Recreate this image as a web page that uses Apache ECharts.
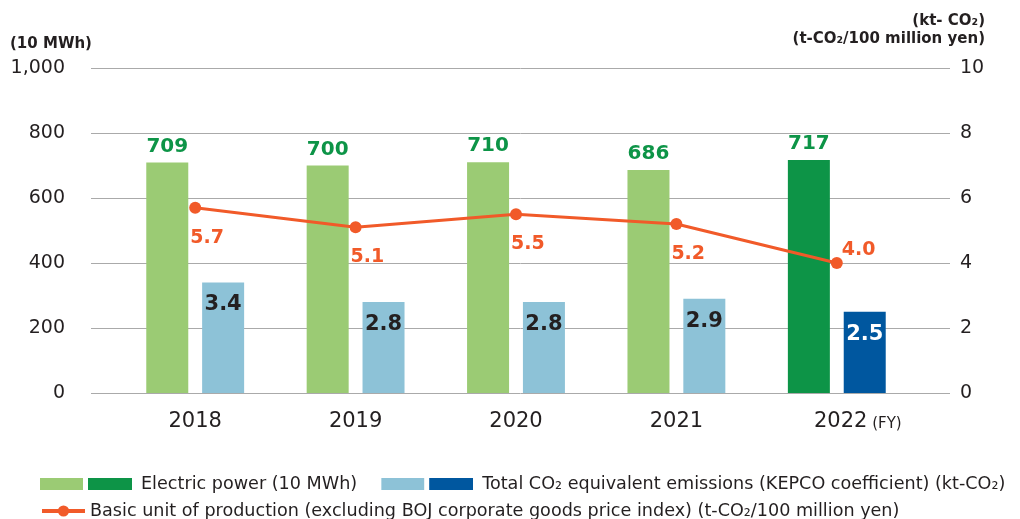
<!DOCTYPE html>
<html><head><meta charset="utf-8">
<script src="https://cdn.jsdelivr.net/npm/echarts@6/dist/echarts.min.js"></script>
<style>html,body{margin:0;padding:0;background:#fff}#c{width:1020px;height:519px}</style>
</head><body><div id="c"></div>
<script>
const categories = ['2018', '2019', '2020', '2021', '2022'];
const powerValues = [709, 700, 710, 686, 717];
const emissionValues = [3.4, 2.8, 2.8, 2.9, 2.5];
const basicUnitValues = [5.7, 5.1, 5.5, 5.2, 4.0];
const leftTicks = [0, 200, 400, 600, 800, 1000];
const rightTicks = [0, 2, 4, 6, 8, 10];

const C = {
  lightGreen: '#9bcb74', darkGreen: '#0d9447',
  lightBlue: '#8dc2d7', darkBlue: '#00579f',
  orange: '#f15a29', text: '#231f20', grid: '#aaaaaa'
};
const FONT = 'DejaVu Sans';

function twoBoxIcon(a, b) {
  const svg = '<svg xmlns="http://www.w3.org/2000/svg" width="92" height="12" viewBox="0 0 92 12">' +
    '<rect x="0" y="0" width="43" height="12" fill="' + a + '"/>' +
    '<rect x="48" y="0" width="44" height="12" fill="' + b + '"/></svg>';
  return 'image://data:image/svg+xml;charset=utf-8,' + encodeURIComponent(svg);
}

const lastIdx = categories.length - 1;
const chart = echarts.init(document.getElementById('c'), null, {renderer: 'canvas'});

const option = {
  animation: false,
  textStyle: {fontFamily: FONT},
  grid: [
    {left: 91, right: 70, top: 68, bottom: 126},
    {left: 115, right: 103, top: 68, bottom: 126}
  ],
  title: [
    {text: '(10 MWh)', left: 5, top: 32, textStyle: {fontFamily: FONT, fontSize: 15, fontWeight: 'bold', color: C.text}},
    {text: '(kt- CO₂)', right: 30, top: 9, textStyle: {fontFamily: FONT, fontSize: 15, fontWeight: 'bold', color: C.text}},
    {text: '(t-CO₂/100 million yen)', right: 30, top: 27, textStyle: {fontFamily: FONT, fontSize: 15, fontWeight: 'bold', color: C.text}}
  ],
  xAxis: [
    {type: 'category', gridIndex: 0, data: categories, show: false},
    {
      type: 'category', gridIndex: 1, data: categories,
      axisLine: {show: false}, axisTick: {show: false},
      axisLabel: {
        interval: 0, margin: 18, color: C.text, fontSize: 21, fontFamily: FONT,
        formatter: function (v, i) {
          return i === lastIdx ? '{sp|}{y|' + v + '}{fy| (FY)}' : '{y|' + v + '}';
        },
        rich: {
          y: {fontSize: 21, color: C.text, fontFamily: FONT},
          fy: {fontSize: 15, color: C.text, fontFamily: FONT, padding: [5, 0, 0, 0]},
          sp: {width: 42}
        }
      }
    }
  ],
  yAxis: [
    {
      type: 'value', gridIndex: 0, min: 0, max: 1000, interval: 200,
      axisLine: {show: false}, axisTick: {show: false},
      splitLine: {lineStyle: {color: C.grid, width: 1}},
      axisLabel: {
        margin: 26, color: C.text, fontSize: 19, fontFamily: FONT,
        formatter: function (v) { return v.toLocaleString('en-US'); }
      }
    },
    {
      type: 'value', gridIndex: 0, position: 'right', min: 0, max: 10, interval: 2,
      axisLine: {show: false}, axisTick: {show: false}, splitLine: {show: false},
      axisLabel: {margin: 10, color: C.text, fontSize: 19, fontFamily: FONT}
    },
    {type: 'value', gridIndex: 1, min: 0, max: 1000, show: false},
    {type: 'value', gridIndex: 1, min: 0, max: 10, show: false, position: 'right'}
  ],
  legend: [
    {
      left: 40, top: 475, padding: 0, itemWidth: 92, itemHeight: 12, itemGap: 24,
      textStyle: {fontFamily: FONT, fontSize: 17.6, color: C.text, padding: [0, 0, 0, 4]},
      data: [
        {name: 'Electric power (10 MWh)', icon: twoBoxIcon(C.lightGreen, C.darkGreen)},
        {name: 'Total CO₂ equivalent emissions (KEPCO coefficient) (kt-CO₂)', icon: twoBoxIcon(C.lightBlue, C.darkBlue)}
      ]
    },
    {
      left: 40, top: 502, padding: 0, itemWidth: 43, itemHeight: 14, itemGap: 6,
      textStyle: {fontFamily: FONT, fontSize: 17.6, color: C.text},
      lineStyle: {width: 4},
      data: ['Basic unit of production (excluding BOJ corporate goods price index) (t-CO₂/100 million yen)']
    }
  ],
  series: [
    {
      name: 'Electric power (10 MWh)', type: 'bar', xAxisIndex: 1, yAxisIndex: 2,
      barWidth: 42, barGap: '33%',
      itemStyle: {color: C.lightGreen},
      data: powerValues.map(function (v, i) {
        return {value: v, itemStyle: {color: i === lastIdx ? C.darkGreen : C.lightGreen}};
      }),
      label: {show: true, position: 'top', distance: 6, color: C.darkGreen, fontSize: 20, fontWeight: 'bold', fontFamily: FONT}
    },
    {
      name: 'Total CO₂ equivalent emissions (KEPCO coefficient) (kt-CO₂)', type: 'bar', xAxisIndex: 1, yAxisIndex: 3,
      barWidth: 42, barGap: '33%',
      itemStyle: {color: C.lightBlue},
      data: emissionValues.map(function (v, i) {
        const last = i === lastIdx;
        return {
          value: v,
          itemStyle: {color: last ? C.darkBlue : C.lightBlue},
          label: {color: last ? '#ffffff' : C.text}
        };
      }),
      label: {
        show: true, position: 'insideTop', distance: 12, fontSize: 21, fontWeight: 'bold', fontFamily: FONT,
        formatter: function (p) { return p.value.toFixed(1); }
      }
    },
    {
      name: 'Basic unit of production (excluding BOJ corporate goods price index) (t-CO₂/100 million yen)',
      type: 'line', xAxisIndex: 1, yAxisIndex: 3, z: 5,
      symbol: 'circle', symbolSize: 12,
      itemStyle: {color: C.orange}, lineStyle: {color: C.orange, width: 3},
      data: basicUnitValues.map(function (v, i) {
        const last = i === lastIdx;
        return {
          value: v,
          label: last ? {position: [11, -7]} : {position: [1, 36]}
        };
      }),
      label: {
        show: true, align: 'left', verticalAlign: 'middle',
        color: C.orange, fontSize: 19, fontWeight: 'bold', fontFamily: FONT,
        formatter: function (p) { return p.value.toFixed(1); }
      }
    }
  ]
};
chart.setOption(option);
</script></body></html>
